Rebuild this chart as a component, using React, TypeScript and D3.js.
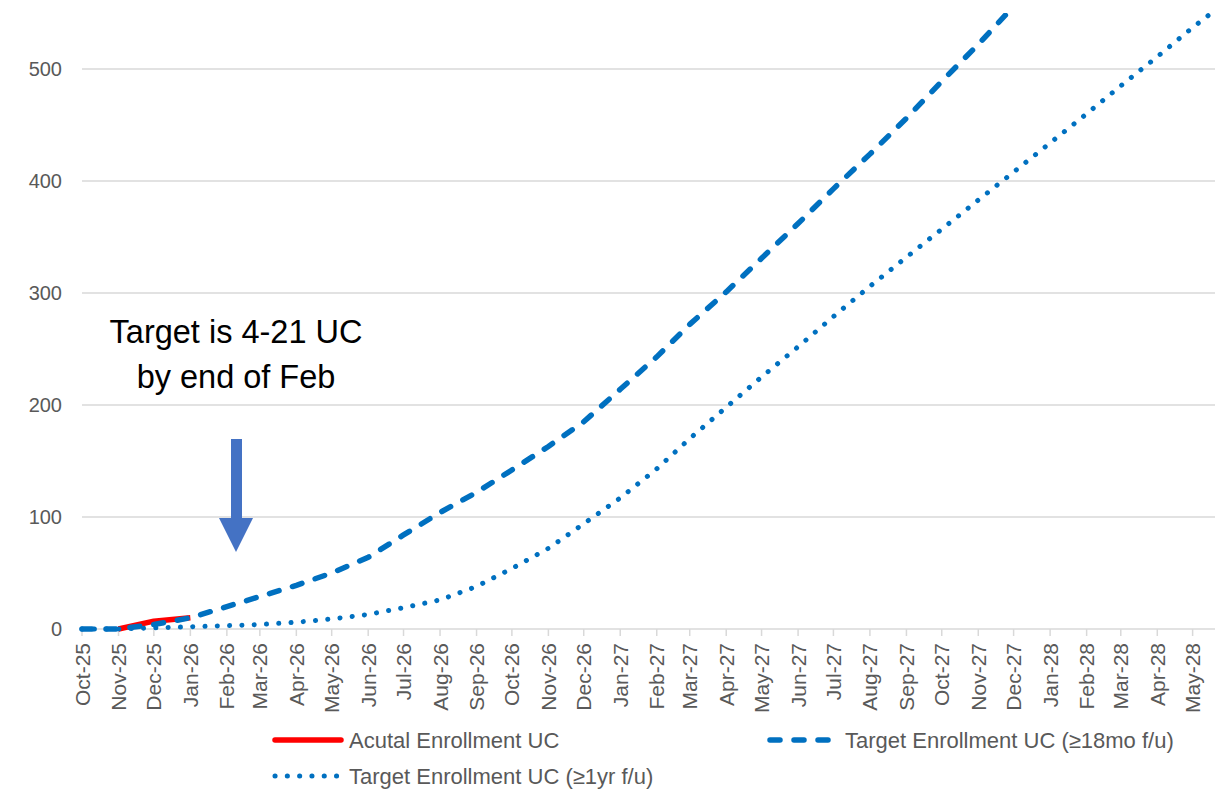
import React from "react";
import * as d3 from "d3";

const MONTHS = [
  "Oct-25","Nov-25","Dec-25","Jan-26","Feb-26","Mar-26","Apr-26","May-26","Jun-26","Jul-26","Aug-26","Sep-26",
  "Oct-26","Nov-26","Dec-26","Jan-27","Feb-27","Mar-27","Apr-27","May-27","Jun-27","Jul-27","Aug-27","Sep-27",
  "Oct-27","Nov-27","Dec-27","Jan-28","Feb-28","Mar-28","Apr-28","May-28","Jun-28",
];
const ACTUAL: (number | null)[] = [null, 0, 7, 10];
const TARGET_18MO = [0,0,4,10,20,29,39,50,64,84,104,122,142,163,185,214,243,272,301,331,362,393,424,456,489,522,556];
const TARGET_1YR = [0,0,1,2,3,4,6,9,13,19,26,38,54,72,94,117,143,170,198,225,252,279,306,332,357,383,408,434,460,485,511,537,562];
const Y_TICKS = [0, 100, 200, 300, 400, 500];
const LEGEND = ["Acutal Enrollment UC", "Target Enrollment UC (≥18mo f/u)", "Target Enrollment UC (≥1yr f/u)"];

const parse = d3.timeParse("%b-%y");
const DATES = MONTHS.map((m) => parse(m) as Date);

const W = 1224, H = 789;
const L = 82, R = 1215, T = 13, B = 629;
const BLUE = "#0070C0", RED = "#FF0000", GRID = "#D9D9D9", TXT = "#595959";
const FONT = "'Liberation Sans', Arial, sans-serif";

export default function App() {
  const x = d3.scaleTime().domain([new Date(2025, 9, 1), new Date(2028, 4, 20)]).range([L, R]);
  const y = d3.scaleLinear().domain([0, 550]).range([B, T]);
  const line = d3
    .line<number | null>()
    .defined((d) => d !== null)
    .x((_, i) => x(DATES[i]))
    .y((d) => y(d as number))
    .curve(d3.curveLinear);
  const domEnd = x.domain()[1];
  const ticks = DATES.map((d, i) => ({ d, label: MONTHS[i] })).filter((t) => t.d <= domEnd);

  const dashStyle = { strokeWidth: 5.5, strokeDasharray: "10 14", strokeLinecap: "round" as const };
  const dotStyle = { strokeWidth: 5, strokeDasharray: "0.1 12.2", strokeLinecap: "round" as const };

  return (
    <svg width={W} height={H} style={{ position: "absolute", left: 0, top: 0, display: "block", background: "#fff" }}>
      <defs>
        <clipPath id="plot">
          <rect x={L - 4} y={T} width={R - L + 4} height={B - T + 10} />
        </clipPath>
      </defs>
      {Y_TICKS.map((v) => (
        <g key={v}>
          <line x1={L} x2={R} y1={y(v)} y2={y(v)} stroke={GRID} strokeWidth={1.5} />
          <text x={62} y={y(v)} textAnchor="end" dominantBaseline="central" fontFamily={FONT} fontSize={20} fill={TXT}>{v}</text>
        </g>
      ))}
      {ticks.map((t) => (
        <g key={t.label}>
          <line x1={x(t.d)} x2={x(t.d)} y1={B} y2={B + 7} stroke={GRID} strokeWidth={1.5} />
          <text transform={`translate(${x(t.d)},${B + 14}) rotate(-90)`} textAnchor="end" dominantBaseline="central" fontFamily={FONT} fontSize={21} fill={TXT}>{t.label}</text>
        </g>
      ))}
      <g clipPath="url(#plot)" fill="none">
        <path d={line(ACTUAL) || ""} stroke={RED} strokeWidth={5.5} strokeLinejoin="round" />
        <path d={line(TARGET_18MO) || ""} stroke={BLUE} {...dashStyle} />
        <path d={line(TARGET_1YR) || ""} stroke={BLUE} {...dotStyle} />
      </g>
      {/* annotation */}
      <text x={236} y={343} textAnchor="middle" fontFamily={FONT} fontSize={32.5} fill="#000">Target is 4-21 UC</text>
      <text x={236} y={388} textAnchor="middle" fontFamily={FONT} fontSize={32.5} fill="#000">by end of Feb</text>
      <path d="M231,439 L242,439 L242,518 L253,518 L236,552 L219,518 L231,518 Z" fill="#4472C4" />
      {/* legend */}
      <line x1={275} x2={341} y1={740} y2={740} stroke={RED} strokeWidth={5.5} strokeLinecap="round" />
      <text x={349} y={740} dominantBaseline="central" fontFamily={FONT} fontSize={22} fill={TXT}>{LEGEND[0]}</text>
      <line x1={770} x2={830} y1={740} y2={740} stroke={BLUE} {...dashStyle} />
      <text x={845} y={740} dominantBaseline="central" fontFamily={FONT} fontSize={22} fill={TXT}>{LEGEND[1]}</text>
      <line x1={275} x2={338} y1={776} y2={776} stroke={BLUE} {...dotStyle} />
      <text x={349} y={776} dominantBaseline="central" fontFamily={FONT} fontSize={22} fill={TXT}>{LEGEND[2]}</text>
    </svg>
  );
}
